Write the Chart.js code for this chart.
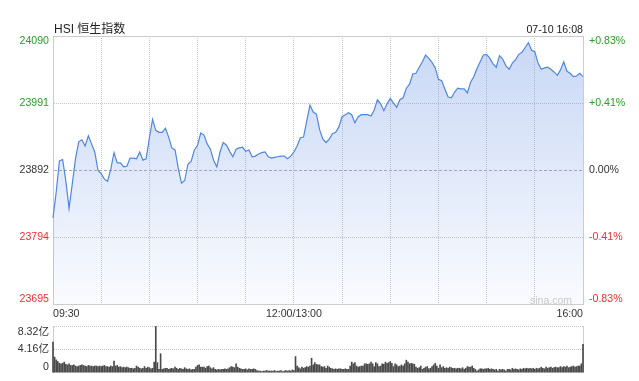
<!DOCTYPE html>
<html>
<head>
<meta charset="utf-8">
<script src="https://cdn.jsdelivr.net/npm/chart.js@4.4.1/dist/chart.umd.min.js"></script>
<style>
html,body{margin:0;padding:0;background:#fff;width:639px;height:381px;overflow:hidden;position:relative;font-family:"Liberation Sans",Arial,"Noto Sans CJK SC",sans-serif;}
#priceWrap{position:absolute;left:0;top:0;width:639px;height:325px;}
#volWrap{position:absolute;left:0;top:317px;width:639px;height:65px;}
.txt{position:absolute;white-space:nowrap;}
#title{left:54px;top:22px;font-size:12px;line-height:14px;color:#222;}
#stamp{right:56px;top:22px;font-size:10.6px;line-height:14px;color:#222;}
#mark{right:67px;top:293px;font-size:10.5px;line-height:14px;color:#c8c8c8;}
</style>
</head>
<body>
<div id="priceWrap"><canvas id="price" width="639" height="325"></canvas></div>
<div id="volWrap"><canvas id="vol" width="639" height="65"></canvas></div>
<div class="txt" id="title">HSI 恒生指数</div>
<div class="txt" id="stamp">07-10 16:08</div>
<div class="txt" id="mark">sina.com</div>
<script>
// ---------- data ----------
const priceMin = 23695;
const priceMax = 24090;
const priceTickLabels = ['23695', '23794', '23892', '23991', '24090'];
const pctTickLabels = ['-0.83%', '-0.41%', '0.00%', '+0.41%', '+0.83%'];
const timeTickLabels = ['09:30', '', '', '', '', '12:00/13:00', '', '', '', '', '', '16:00'];
const gridStepMinutes = 30;
const totalMinutes = 330;
const volumeTickValues = [0, 4.16, 8.32];
const volumeTickLabels = ['0', '4.16亿', '8.32亿'];
const priceStepMinutes = 2;

const prices = [
  23822, 23860, 23906, 23908, 23876, 23836, 23872, 23909, 23934, 23937,
  23928, 23943, 23931, 23919, 23892, 23887, 23879, 23876, 23894, 23918,
  23903, 23903, 23897, 23898, 23910, 23910, 23909, 23919, 23907, 23909,
  23940, 23967, 23951, 23948, 23948, 23954, 23941, 23925, 23922, 23895,
  23873, 23877, 23901, 23905, 23922, 23929, 23947, 23944, 23931, 23923,
  23907, 23897, 23919, 23933, 23929, 23920, 23912, 23923, 23925, 23926,
  23920, 23922, 23912, 23913, 23916, 23918, 23919, 23912, 23910, 23911,
  23912, 23913, 23913, 23909, 23913, 23919, 23928, 23940, 23941, 23965,
  23988, 23978, 23975, 23952, 23938, 23933, 23938, 23946, 23948, 23956,
  23971, 23974, 23977, 23974, 23962, 23971, 23974, 23974, 23974, 23972,
  23981, 23996, 23990, 23980, 23990, 23998, 23991, 23985, 23996, 23999,
  24013, 24019, 24034, 24035, 24044, 24052, 24062, 24057, 24051, 24043,
  24026, 24024, 24012, 24000, 23999, 24007, 24013, 24012, 24012, 24006,
  24022, 24030, 24042, 24052, 24062, 24063, 24057, 24049, 24044, 24061,
  24056, 24046, 24041, 24050, 24055, 24063, 24066, 24073, 24080, 24069,
  24067, 24050, 24041, 24043, 24044, 24041, 24037, 24032, 24040, 24052,
  24038, 24035, 24030, 24031, 24035, 24030
];

const volumes = [
  5.5, 2.8, 2.3, 2.0, 1.7, 1.6, 1.7, 1.9, 1.5, 1.4,
  1.6, 1.3, 1.3, 1.4, 1.2, 1.1, 1.2, 1.3, 1.4, 1.3,
  1.2, 1.1, 1.3, 1.2, 1.2, 1.1, 1.2, 1.2, 1.1, 1.2,
  1.1, 1.2, 1.3, 1.1, 1.1, 1.0, 1.2, 1.1, 2.1, 1.2,
  1.3, 1.0, 1.1, 0.9, 1.0, 0.9, 1.0, 0.9, 0.8, 0.8,
  0.7, 0.8, 1.2, 1.0, 0.8, 0.7, 0.8, 1.1, 0.8, 1.0,
  0.9, 0.7, 0.8, 1.9, 8.3, 1.8, 0.6, 3.4, 0.6, 0.7,
  0.8, 0.8, 0.6, 0.7, 0.8, 0.7, 1.0, 0.8, 0.6, 0.8,
  0.7, 0.6, 0.9, 0.7, 0.6, 0.7, 0.5, 0.6, 0.6, 1.0,
  1.3, 1.4, 1.0, 1.0, 1.0, 0.8, 1.1, 1.2, 0.9, 0.7,
  0.9, 0.6, 0.5, 0.6, 0.5, 0.6, 0.6, 0.7, 0.6, 0.7,
  0.9, 1.1, 1.0, 0.9, 1.6, 1.0, 0.8, 0.7, 0.6, 0.6,
  0.7, 0.5, 0.7, 0.6, 0.6, 0.7, 0.6, 0.4, 0.3, 0.3,
  0.2, 0.3, 0.3, 0.4, 0.3, 0.3, 0.3, 0.3, 0.4, 0.2,
  0.3, 0.3, 0.4, 0.2, 0.3, 0.4, 0.3, 0.4, 0.3, 0.5,
  0.4, 2.9, 1.2, 0.9, 0.7, 1.0, 0.8, 0.9, 1.1, 1.0,
  1.2, 2.6, 1.4, 1.8, 1.5, 1.4, 1.4, 1.1, 1.0, 1.1,
  0.8, 1.2, 1.0, 0.8, 0.7, 0.6, 0.7, 0.6, 0.7, 0.7,
  0.6, 0.6, 0.7, 0.6, 0.6, 1.2, 1.9, 1.6, 1.8, 1.2,
  1.0, 1.1, 1.2, 1.2, 1.6, 1.6, 1.5, 1.6, 1.9, 1.6,
  1.1, 1.8, 1.6, 1.1, 1.2, 1.6, 1.5, 1.9, 1.7, 1.8,
  2.0, 1.7, 1.1, 1.6, 1.4, 1.1, 1.2, 1.4, 1.2, 1.6,
  2.25, 1.9, 1.6, 1.7, 1.6, 1.5, 1.0, 0.8, 0.9, 1.2,
  0.6, 0.8, 1.0, 1.1, 0.7, 0.8, 1.1, 1.4, 1.7, 1.2,
  0.8, 1.4, 0.9, 1.1, 0.8, 0.9, 0.8, 1.0, 0.9, 0.8,
  0.8, 0.7, 0.8, 0.8, 0.7, 0.9, 0.6, 0.8, 1.1, 1.0,
  1.0, 1.2, 0.8, 0.6, 0.3, 0.5, 0.7, 0.7, 0.6, 0.7,
  0.7, 0.8, 0.6, 0.7, 0.6, 0.5, 0.6, 0.3, 0.6, 0.5,
  0.6, 0.5, 0.3, 0.6, 0.6, 0.5, 0.8, 0.6, 0.7, 0.6,
  0.5, 0.7, 0.6, 0.8, 0.7, 0.8, 0.7, 0.8, 0.7, 0.8,
  0.6, 0.8, 0.7, 0.8, 1.0, 0.8, 0.7, 1.0, 0.8, 0.9,
  1.0, 0.8, 0.9, 1.0, 0.9, 0.9, 1.1, 0.9, 1.1, 1.0,
  1.2, 0.9, 1.0, 1.1, 1.2, 1.0, 1.1, 1.2, 1.2, 1.6,
  5.1
];

// ---------- styling ----------
const FONT = {family: '"Liberation Sans", Arial, "Noto Sans CJK SC", sans-serif', size: 10.6, lineHeight: 1};
const GREEN = '#2a9d2a';
const RED = '#f03030';
const DARK = '#333333';
const BORDER = '#cccccc';
const DOT = '#c6c6c6';
Chart.defaults.font.family = FONT.family;
Chart.defaults.font.size = FONT.size;

const tickColor = (c) => c.index > 2 ? GREEN : (c.index < 2 ? RED : DARK);

// push first/last labels inside the plot edges
const edgeLabels = {
  id: 'edgeLabels',
  beforeDraw(chart) {
    Object.values(chart.scales).forEach(scale => {
      if (!scale.options.display || !scale.options.ticks.display) return;
      const items = scale.getLabelItems(chart.chartArea);
      if (!items || !items.length) return;
      if (scale.isHorizontal()) {
        const shown = items.filter(it => it.label !== '' && it.label != null);
        if (!shown.length) return;
        shown[0].options.textAlign = 'left';
        shown[shown.length - 1].options.textAlign = 'right';
      } else {
        let top = items[0], bottom = items[0];
        items.forEach(it => {
          if (it.options.translation[1] < top.options.translation[1]) top = it;
          if (it.options.translation[1] > bottom.options.translation[1]) bottom = it;
        });
        top.options.textBaseline = 'top';
        bottom.options.textBaseline = 'bottom';
      }
    });
  }
};

const evenTicks = (n, min, max) => Array.from({length: n}, (_, i) => ({value: min + (max - min) * i / (n - 1)}));

// ---------- price chart ----------
new Chart(document.getElementById('price'), {
  type: 'line',
  data: {
    datasets: [{
      data: prices.map((p, i) => ({x: i * priceStepMinutes, y: p})),
      borderColor: '#4f86e6',
      borderWidth: 1.2,
      pointRadius: 0,
      tension: 0,
      fill: 'start',
      clip: false,
      backgroundColor: (c) => {
        const a = c.chart.chartArea;
        if (!a) return 'rgba(110,150,230,0.2)';
        const g = c.chart.ctx.createLinearGradient(0, a.top, 0, a.bottom);
        g.addColorStop(0, 'rgba(110,150,230,0.38)');
        g.addColorStop(1, 'rgba(110,150,230,0.04)');
        return g;
      }
    }]
  },
  options: {
    responsive: false,
    animation: false,
    events: [],
    layout: {padding: {top: 36, left: 0, right: 0, bottom: 0}},
    plugins: {legend: {display: false}, tooltip: {enabled: false}},
    scales: {
      x: {
        type: 'linear', min: 0, max: totalMinutes,
        afterBuildTicks: (s) => { s.ticks = timeTickLabels.map((_, i) => ({value: i * gridStepMinutes})); },
        afterFit: (s) => { s.height = 21; },
        ticks: {autoSkip: false, maxRotation: 0, padding: 5, color: DARK, font: FONT,
                callback: (v, i) => timeTickLabels[i] || ''},
        grid: {color: DOT, drawTicks: false, lineWidth: 1},
        border: {display: true, color: BORDER, dash: [1, 1]}
      },
      y: {
        position: 'left', min: priceMin, max: priceMax,
        afterBuildTicks: (s) => { s.ticks = evenTicks(priceTickLabels.length, priceMin, priceMax); },
        afterFit: (s) => { s.width = 53; },
        ticks: {padding: 4, font: FONT, color: tickColor, callback: (v, i) => priceTickLabels[i]},
        grid: {
          drawTicks: false, lineWidth: 1,
          color: (c) => (c.index === 0 || c.index === 4) ? BORDER : (c.index === 2 ? '#aaaaaa' : DOT)
        },
        border: {
          display: true, color: BORDER,
          dash: (c) => (c.index === 0 || c.index === 4) ? [] : (c.index === 2 ? [3, 2] : [1, 1])
        }
      },
      y2: {
        position: 'right', min: priceMin, max: priceMax,
        afterBuildTicks: (s) => { s.ticks = evenTicks(pctTickLabels.length, priceMin, priceMax); },
        afterFit: (s) => { s.width = 56; },
        ticks: {padding: 6, font: FONT, color: tickColor, callback: (v, i) => pctTickLabels[i]},
        grid: {drawOnChartArea: false, drawTicks: false},
        border: {display: true, color: BORDER}
      }
    }
  },
  plugins: [edgeLabels]
});

// ---------- volume chart ----------
new Chart(document.getElementById('vol'), {
  type: 'bar',
  data: {
    datasets: [{
      data: volumes.map((v, i) => ({x: i, y: v})),
      backgroundColor: '#4a4a4a',
      borderWidth: 0,
      barThickness: 1,
      clip: false
    }]
  },
  options: {
    responsive: false,
    animation: false,
    events: [],
    layout: {padding: {top: 9, left: 0, right: 0, bottom: 7}},
    plugins: {legend: {display: false}, tooltip: {enabled: false}},
    scales: {
      x: {type: 'linear', min: 0, max: totalMinutes, display: false, offset: false},
      y: {
        position: 'left', min: 0, max: volumeTickValues[volumeTickValues.length - 1],
        afterBuildTicks: (s) => { s.ticks = volumeTickValues.map(v => ({value: v})); },
        afterFit: (s) => { s.width = 53; },
        ticks: {padding: 4, font: FONT, color: DARK, callback: (v, i) => volumeTickLabels[i]},
        grid: {drawTicks: false, lineWidth: 1, color: (c) => c.index === 0 ? 'rgba(0,0,0,0)' : DOT},
        border: {display: true, color: BORDER, dash: [1, 1]}
      },
      y2: {
        position: 'right', min: 0, max: volumeTickValues[volumeTickValues.length - 1],
        afterFit: (s) => { s.width = 56; },
        ticks: {display: false},
        grid: {drawOnChartArea: false, drawTicks: false},
        border: {display: true, color: BORDER}
      }
    }
  },
  plugins: [edgeLabels]
});
</script>
</body>
</html>
